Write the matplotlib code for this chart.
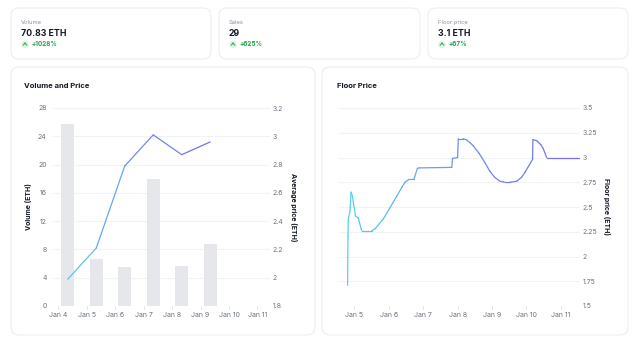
import numpy as np
import matplotlib.pyplot as plt
from matplotlib.patches import FancyBboxPatch, Circle
from matplotlib.collections import LineCollection
from matplotlib.colors import LinearSegmentedColormap

plt.rcParams['font.family'] = ['Inter', 'DejaVu Sans']

# summary cards
card_labels = ["Volume", "Sales", "Floor price"]
card_values = ["70.83 ETH", "29", "3.1 ETH"]
card_changes = ["+1028%", "+625%", "+67%"]

# volume / average price per day (x = day of January)
day_ticks = [4, 5, 6, 7, 8, 9, 10, 11]
day_labels = ["Jan 4", "Jan 5", "Jan 6", "Jan 7", "Jan 8", "Jan 9", "Jan 10", "Jan 11"]
vol_days = [4.34, 5.34, 6.34, 7.34, 8.34, 9.34]
volume = [25.7, 6.6, 5.5, 18.0, 5.6, 8.8]
avg_price = [1.99, 2.21, 2.79, 3.01, 2.87, 2.96]

# floor price history
floor_ticks = [5, 6, 7, 8, 9, 10, 11]
floor_labels = ["Jan 5", "Jan 6", "Jan 7", "Jan 8", "Jan 9", "Jan 10", "Jan 11"]
floor_x = [4.80, 4.81, 4.82, 4.87, 4.90, 4.94, 5.03, 5.11, 5.14, 5.21, 5.50, 5.60,
           5.84, 6.03, 6.23, 6.38, 6.47, 6.59, 6.73, 6.83, 6.87, 7.83, 7.85, 8.00,
           8.02, 8.16, 8.25, 8.36, 8.45, 8.63, 8.79, 8.94, 9.08, 9.23, 9.37, 9.52,
           9.72, 9.86, 9.96, 10.06, 10.18, 10.19, 10.30, 10.42, 10.49, 10.59, 11.56]
floor_y = [1.71, 2.20, 2.38, 2.46, 2.65, 2.61, 2.41, 2.39, 2.35, 2.26, 2.26, 2.28,
           2.38, 2.49, 2.61, 2.70, 2.75, 2.78, 2.78, 2.89, 2.895, 2.90, 2.99, 3.0,
           3.19, 3.19, 3.18, 3.15, 3.12, 3.04, 2.95, 2.86, 2.80, 2.76, 2.75, 2.75,
           2.76, 2.80, 2.85, 2.91, 2.98, 3.18, 3.17, 3.13, 3.09, 3.0, 3.0]

W, H = 640, 342
text_dark = "#111827"
text_gray = "#6b7280"
grid_col = "#f1f2f4"
border_col = "#eceef1"
green = "#1fa34a"
grad = LinearSegmentedColormap.from_list("grad", ["#57d0ef", "#6f8cf2", "#786cef"])

fig = plt.figure(figsize=(W / 100, H / 100), dpi=100)
fig.patch.set_facecolor("white")

# background layer in pixel units for cards and panel frames
bg = fig.add_axes([0, 0, 1, 1])
bg.set_xlim(0, W)
bg.set_ylim(H, 0)
bg.axis("off")


def card(x0, y0, x1, y1):
    bg.add_patch(FancyBboxPatch((x0, y0), x1 - x0, y1 - y0,
                                boxstyle="round,pad=0,rounding_size=8",
                                fc="white", ec=border_col, lw=0.8))


card_x = [(11, 211), (219, 420), (428, 628)]
for (x0, x1), lab, val, chg in zip(card_x, card_labels, card_values, card_changes):
    card(x0, 8, x1, 59)
    bg.text(x0 + 10, 22.5, lab, fontsize=4.2, color="#8b9099", va="center")
    bg.text(x0 + 10, 34, val, fontsize=6.3, color=text_dark, weight="bold", va="center")
    bg.add_patch(Circle((x0 + 14, 44.5), 3.8, fc="#dff2e4", ec="none", zorder=1))
    bg.annotate("", xy=(x0 + 14, 42.2), xytext=(x0 + 14, 47.0),
                arrowprops=dict(arrowstyle="->,head_length=0.18,head_width=0.14",
                                color=green, lw=0.6), zorder=2)
    bg.text(x0 + 20, 44.5, chg, fontsize=4.6, color=green, weight="bold", va="center")

card(11, 67, 315, 335)
card(322, 67, 628, 335)
bg.text(24, 86, "Volume and Price", fontsize=5.5, color=text_dark, weight="bold", va="center")
bg.text(337, 86, "Floor Price", fontsize=5.5, color=text_dark, weight="bold", va="center")


def px_axes(x0, y0, x1, y1):
    return fig.add_axes([x0 / W, 1 - y1 / H, (x1 - x0) / W, (y1 - y0) / H])


def style(ax):
    for s in ax.spines.values():
        s.set_visible(False)
    ax.set_facecolor("none")
    ax.tick_params(labelsize=5, colors=text_gray)
    ax.tick_params(axis="x", length=2.5, width=0.6, color="#d9dbe0", pad=1.5)
    ax.tick_params(axis="y", length=0)


def gradient_line(ax, x, y, lw):
    x = np.asarray(x, float)
    y = np.asarray(y, float)
    pts = np.column_stack([x, y]).reshape(-1, 1, 2)
    segs = np.concatenate([pts[:-1], pts[1:]], axis=1)
    mids = (x[:-1] + x[1:]) / 2
    lc = LineCollection(segs, cmap=grad, linewidths=lw, capstyle="round", joinstyle="round")
    lc.set_array((mids - x.min()) / (x.max() - x.min()))
    lc.set_clim(0, 1)
    ax.add_collection(lc)


# volume bars + average price line
ax1 = px_axes(53, 108, 270, 306)
style(ax1)
ax1.bar(vol_days, volume, width=0.46, color="#e6e7eb", zorder=2)
ax1.set_ylim(0, 28)
ax1.set_yticks(range(0, 29, 4))
ax1.set_xlim(3.82, 11.44)
ax1.set_xticks(day_ticks)
ax1.set_xticklabels(day_labels)
ax1.grid(axis="y", color=grid_col, lw=0.8, zorder=0)
ax1.tick_params(axis="y", pad=4.5)
ax1.set_ylabel("Volume (ETH)", fontsize=5, weight="bold", color=text_dark)
ax1.yaxis.set_label_coords(-0.098, 0.5)

ax2 = ax1.twinx()
style(ax2)
ax2.set_ylim(1.8, 3.2)
ax2.set_yticks(np.arange(1.8, 3.21, 0.2))
ax2.set_yticklabels(["1.8", "2", "2.2", "2.4", "2.6", "2.8", "3", "3.2"])
ax2.tick_params(axis="y", pad=1.7)
gradient_line(ax2, vol_days, avg_price, 0.9)
ax2.set_ylabel("Average price (ETH)", fontsize=5, weight="bold", color=text_dark,
               rotation=270, va="center")
ax2.yaxis.set_label_coords(1.11, 0.5)

# floor price history
ax3 = px_axes(339, 108, 580, 306)
style(ax3)
ax3.yaxis.tick_right()
ax3.yaxis.set_label_position("right")
ax3.set_ylim(1.5, 3.5)
ax3.set_yticks(np.arange(1.5, 3.51, 0.25))
ax3.set_yticklabels(["1.5", "1.75", "2", "2.25", "2.5", "2.75", "3", "3.25", "3.5"])
ax3.tick_params(axis="y", pad=1.7)
ax3.set_xlim(4.55, 11.56)
ax3.set_xticks(floor_ticks)
ax3.set_xticklabels(floor_labels)
ax3.grid(axis="y", color=grid_col, lw=0.8, zorder=0)
gradient_line(ax3, floor_x, floor_y, 0.9)
ax3.set_ylabel("Floor price (ETH)", fontsize=5, weight="bold", color=text_dark,
               rotation=270, va="center")
ax3.yaxis.set_label_coords(1.112, 0.5)

fig.savefig("out.png", dpi=100, facecolor="white")
